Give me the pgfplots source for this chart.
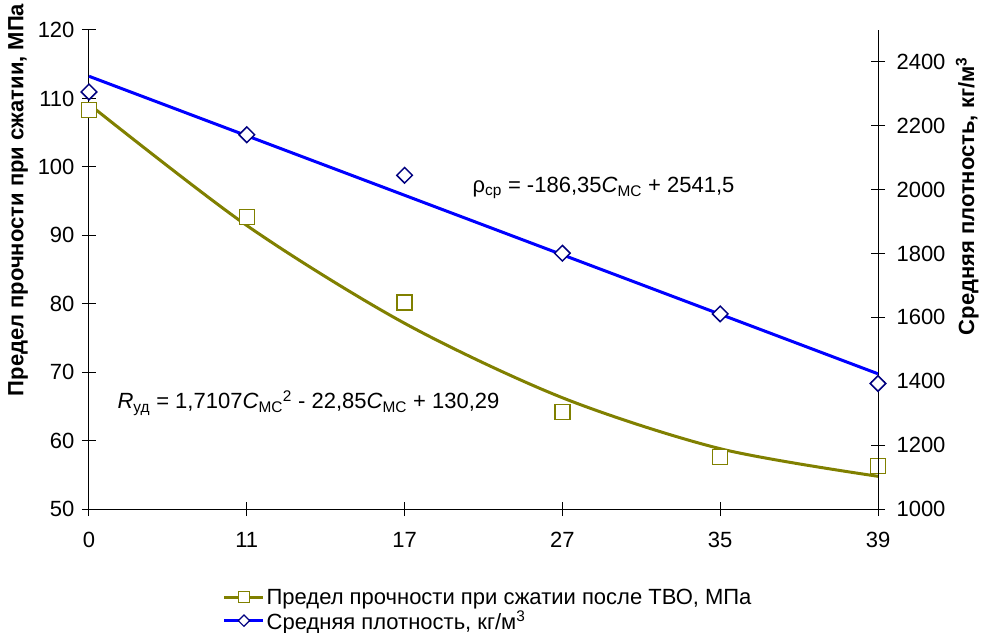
\documentclass[border=0pt]{standalone}
\usepackage{fontspec}
\setmainfont{Liberation Sans}
\usepackage{pgfplots}
\pgfplotsset{compat=1.18}
\definecolor{olv}{RGB}{128,128,0}
\definecolor{nvy}{RGB}{0,0,128}
\definecolor{blu}{RGB}{0,0,255}

\begin{document}
\begin{tikzpicture}[font=\fontsize{22}{26}\selectfont]
\pgfplotsset{
 common/.style={
  scale only axis, width=789pt, height=479pt,
  xmin=0, xmax=5, clip=false,
  tick align=center, major tick length=14pt,
  tick style={black, line width=1pt},
  axis line style={black, line width=1pt},
  /pgf/number format/assume math mode=true,
  /pgf/number format/1000 sep={},
  tick label style={font=\fontsize{22}{26}\selectfont},
 }
}
\begin{axis}[common,
 axis x line*=bottom, axis y line*=left,
 ymin=50, ymax=120, ytick={50,60,...,120},
 xtick={0,...,5}, xticklabels={0,11,17,27,35,39},
 yticklabel style={xshift=-4pt},
 xticklabel style={yshift=-13pt},
 ylabel={\bfseries Предел прочности при сжатии, МПа},
 ylabel style={at={(axis description cs:-0.09,0.645)}, anchor=center},
]
\addplot[olv, line width=3pt, smooth] coordinates {(0,109.15) (1,91.43) (2,77.14) (3,66.26) (4,58.81) (5,54.78)};
\addplot[only marks, mark=square*, mark size=7.5pt, mark options={draw=olv, fill=white, line width=1.5pt}] coordinates {(0,108.3) (1,92.7) (2,80.2) (3,64.2) (4,57.6) (5,56.3)};
\node[anchor=west, inner sep=0pt] at (axis cs:0.18,65.5) {\textit{R}\textsubscript{уд} = 1,7107\textit{C}\textsubscript{МС}\textsuperscript{2} - 22,85\textit{C}\textsubscript{МС} + 130,29};
\node[anchor=west, inner sep=0pt] at (axis cs:2.43,96.9) {ρ\textsubscript{ср} = -186,35\textit{C}\textsubscript{МС} + 2541,5};
\coordinate (sw) at (rel axis cs:0,0);
\end{axis}
\begin{axis}[common,
 axis x line=none, axis y line*=right,
 ymin=1000, ymax=2500, ytick={1000,1200,...,2400},
 yticklabel style={xshift=8pt},
 ylabel={\bfseries Средняя плотность, кг/м\textsuperscript{3}},
 ylabel style={at={(axis description cs:1.113,0.653)}, anchor=center},
 legend style={at={(0.166,-0.158)}, anchor=north west, draw=none, fill=none, legend cell align=left, row sep=1pt},
 legend image code/.code={\draw[mark repeat=2,mark phase=2,#1] plot coordinates {(0pt,0pt) (19.5pt,0pt) (39pt,0pt)};},
]
\addlegendimage{olv, line width=2.5pt, mark=square*, mark size=5.5pt, mark options={draw=olv, fill=white, line width=1.2pt}}
\addlegendentry{Предел прочности при сжатии после ТВО, МПа}
\addlegendimage{blu, line width=2.5pt, mark=square*, mark size=4pt, mark options={rotate=45, draw=nvy, fill=white, line width=1.2pt}}
\addlegendentry{Средняя плотность, кг/м\textsuperscript{3}}
\addplot[blu, line width=3pt, forget plot] coordinates {(0,2355.15) (5,1423.4)};
\addplot[only marks, forget plot, mark=square*, mark size=5.5pt, mark options={rotate=45, draw=nvy, fill=white, line width=1.5pt}] coordinates {(0,2306) (1,2172) (2,2045) (3,1801) (4,1611) (5,1393)};
\end{axis}
\pgfresetboundingbox
\path (sw) ++(-89pt,-123pt) rectangle ++(981pt,632pt);
\end{tikzpicture}
\end{document}
